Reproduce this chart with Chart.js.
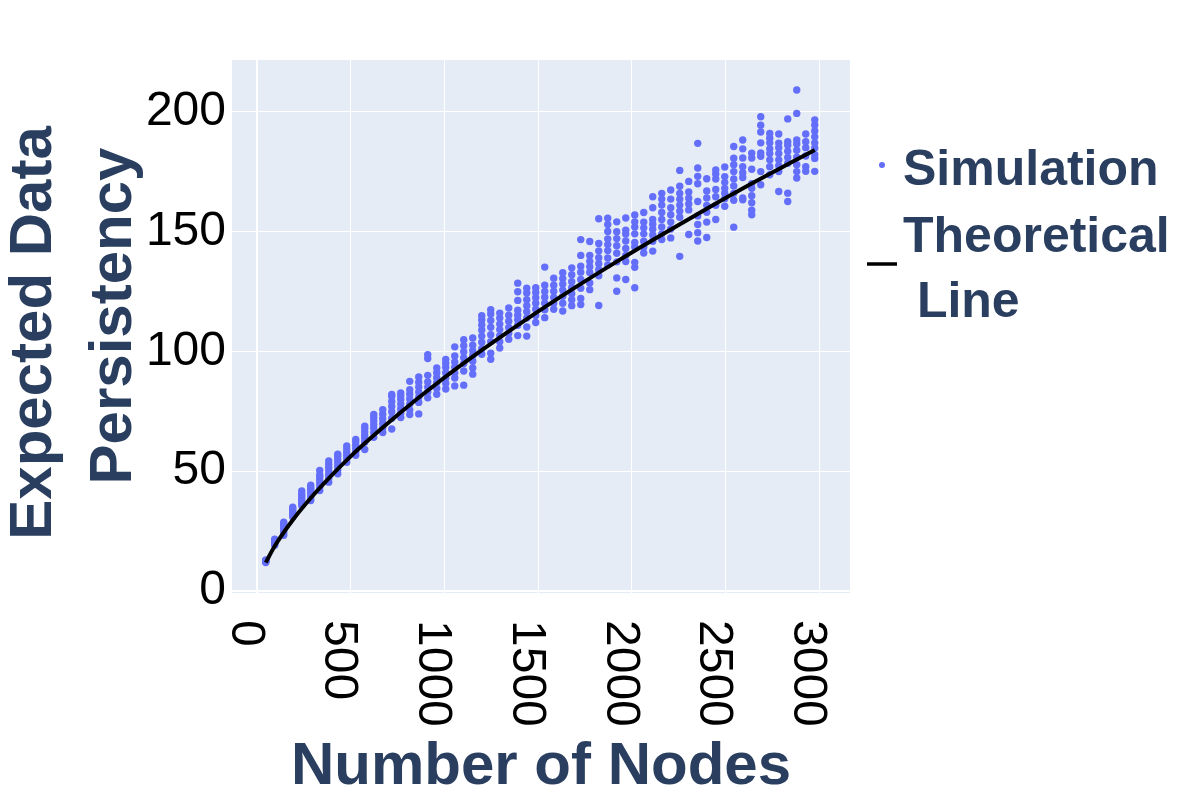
<!DOCTYPE html>
<html>
<head>
<meta charset="utf-8">
<script src="https://cdn.jsdelivr.net/npm/chart.js@4.4.1/dist/chart.umd.min.js"></script>
<style>
html,body{margin:0;padding:0;background:#fff;}
#wrap{width:1200px;height:800px;}
</style>
</head>
<body>
<div id="wrap"><canvas id="c" width="1200" height="800"></canvas></div>
<script>
// ---- data ----
const xTicks = [0, 500, 1000, 1500, 2000, 2500, 3000];
const yTicks = [0, 50, 100, 150, 200];

const nodeCounts = [48, 96, 144, 192, 240, 288, 336, 384, 432, 480, 528, 576, 624, 672, 720, 768,
  816, 864, 912, 960, 1008, 1056, 1104, 1152, 1200, 1248, 1296, 1344, 1392, 1440, 1488, 1536,
  1584, 1632, 1680, 1728, 1776, 1824, 1872, 1920, 1968, 2016, 2064, 2112, 2160, 2208, 2256,
  2304, 2352, 2400, 2448, 2496, 2544, 2592, 2640, 2688, 2736, 2784, 2832, 2880, 2928, 2976];

const simColumns = [
  [11.8, 12.1, 12.4, 12.6, 12.9, 12.3],
  [19.0, 19.6, 20.1, 20.6, 21.1, 21.6],
  [23.2, 24.3, 25.4, 26.3, 27.2, 28.0, 28.7],
  [30.8, 31.7, 32.6, 33.4, 34.2, 34.9],
  [35.6, 36.6, 37.6, 38.6, 39.6, 40.6, 41.7],
  [37.7, 38.9, 40.1, 41.2, 42.3, 43.2, 44.1],
  [41.9, 43.4, 44.8, 46.2, 47.5, 48.4, 50.3],
  [45.4, 47.0, 48.5, 50.0, 51.4, 52.8, 54.2],
  [48.9, 50.5, 52.0, 53.4, 54.9, 56.2, 57.1],
  [53.7, 55.2, 56.6, 57.9, 59.2, 60.5],
  [56.6, 58.0, 59.4, 60.8, 62.2, 63.2],
  [59.0, 62.1, 63.6, 65.0, 66.4, 67.8, 68.8],
  [64.1, 66.0, 67.9, 69.5, 71.0, 72.4, 73.7],
  [66.1, 68.1, 70.0, 71.9, 73.8, 75.7],
  [67.6, 72.1, 74.8, 77.0, 79.1, 81.3, 82.0],
  [72.4, 74.2, 76.1, 78.0, 79.9, 81.4, 82.6],
  [73.6, 75.6, 78.0, 80.1, 82.1, 84.0, 87.5],
  [73.9, 78.7, 80.9, 83.0, 85.1, 87.1, 89.3],
  [80.6, 83.0, 85.1, 87.2, 90.0, 97.0, 98.6],
  [82.1, 84.5, 86.9, 89.0, 91.1, 93.1],
  [84.3, 86.6, 88.9, 91.1, 93.4, 95.1, 96.6],
  [85.6, 88.9, 91.0, 93.4, 95.6, 98.1, 101.9],
  [85.9, 91.8, 94.9, 97.4, 99.9, 102.4, 104.9],
  [90.5, 93.1, 95.9, 98.2, 100.3, 102.6, 105.6],
  [98.8, 101.1, 103.8, 106.4, 108.9, 111.0, 113.1, 114.9],
  [96.7, 99.2, 104.1, 107.0, 110.1, 112.9, 115.6, 117.4],
  [101.4, 104.0, 106.6, 109.1, 111.4, 113.9, 116.0],
  [105.1, 107.6, 110.0, 112.6, 115.1, 118.1],
  [106.6, 110.9, 113.2, 115.1, 117.2, 121.3, 124.9, 128.5],
  [106.4, 110.2, 113.9, 116.6, 119.1, 121.6, 124.4, 126.4],
  [112.1, 115.0, 117.6, 120.1, 122.4, 124.6, 126.6],
  [114.1, 117.4, 120.1, 122.6, 125.0, 127.6, 135.2],
  [117.6, 120.1, 122.5, 125.1, 127.6, 130.6],
  [116.9, 120.1, 123.0, 125.6, 128.1, 130.4, 132.9],
  [119.1, 121.6, 124.1, 126.6, 129.1, 132.0, 134.9],
  [119.6, 122.1, 126.4, 130.0, 133.1, 135.6, 140.1, 146.7],
  [125.8, 128.6, 133.0, 135.4, 137.6, 140.1, 145.9],
  [119.2, 131.6, 134.1, 136.6, 139.1, 142.0, 145.1, 155.4],
  [136.1, 139.0, 142.1, 144.6, 147.0, 150.1, 153.0, 155.6],
  [125.1, 130.7, 137.4, 141.0, 144.1, 147.1, 150.0, 154.1],
  [130.0, 137.5, 140.1, 143.0, 146.1, 149.0, 150.6, 155.7],
  [126.6, 135.1, 137.2, 143.6, 145.5, 149.1, 152.0, 154.1, 157.0],
  [141.1, 143.6, 146.0, 149.1, 151.6, 154.0, 158.0],
  [141.9, 146.0, 148.6, 151.0, 153.1, 155.1, 160.0, 164.6],
  [146.7, 149.1, 152.0, 155.1, 158.0, 161.1, 163.6, 166.0],
  [147.4, 151.1, 154.0, 157.1, 160.0, 163.6, 167.4],
  [139.7, 156.0, 158.6, 161.1, 163.6, 166.0, 169.0, 175.6],
  [148.8, 159.1, 161.6, 164.0, 166.6, 171.0],
  [146.1, 149.6, 153.0, 156.6, 162.6, 170.0, 173.1, 176.6, 186.9],
  [147.6, 154.0, 158.1, 161.0, 164.1, 167.0, 172.1],
  [155.1, 161.0, 164.6, 167.6, 172.0, 174.1, 175.8],
  [160.6, 163.8, 166.1, 168.1, 170.6, 173.0, 177.0],
  [151.9, 163.1, 166.0, 169.1, 172.0, 175.1, 178.0, 180.7, 185.6],
  [163.3, 164.1, 172.6, 174.6, 177.1, 180.8, 184.6, 188.3],
  [157.1, 159.0, 162.1, 165.0, 168.1, 170.0, 176.1, 180.8, 182.8],
  [169.6, 175.1, 181.5, 182.9, 187.1, 191.6, 194.5, 198.0],
  [173.8, 177.1, 180.0, 182.6, 184.6, 187.1, 189.0, 191.0],
  [166.8, 175.1, 177.6, 180.0, 182.6, 185.1, 187.0, 190.8],
  [162.6, 166.1, 178.6, 181.0, 183.6, 186.1, 187.6, 197.1],
  [172.4, 175.1, 178.0, 181.1, 184.0, 186.6, 188.3, 199.4, 209.2],
  [175.2, 177.1, 181.6, 185.1, 187.6, 190.8],
  [175.2, 180.6, 182.1, 185.0, 187.1, 189.6, 192.1, 194.6, 196.7]
];

const theoryX = [48, 96, 192, 288, 384, 480, 576, 768, 960, 1200, 1440, 1680, 1920, 2160, 2400, 2640, 2880, 2976];
const theoryY = [11.8, 18.7, 29.6, 38.8, 47.0, 54.6, 61.6, 74.6, 86.6, 100.5, 113.5, 125.8, 137.5, 148.7, 159.6, 170.1, 180.1, 184.1];

const seriesNames = ['Simulation', 'Theoretical', ' Line'];
const xTitle = 'Number of Nodes';
const yTitle = ['Expected Data', 'Persistency'];

// ---- build ----
const simPoints = [];
nodeCounts.forEach((n, i) => simColumns[i].forEach(v => simPoints.push({x: n, y: v})));
const theoryPoints = theoryX.map((x, i) => ({x: x, y: theoryY[i]}));

const FONT = "'Liberation Sans', Arial, sans-serif";
const TITLE_COLOR = '#2a3f5f';
const SIM_COLOR = '#636EFA';

const bgPlugin = {
  id: 'bg',
  beforeDraw(chart) {
    const {ctx, chartArea: a} = chart;
    ctx.save();
    ctx.fillStyle = '#E5ECF6';
    ctx.fillRect(a.left, a.top, a.right - a.left, a.bottom - a.top);
    ctx.restore();
  }
};

const textPlugin = {
  id: 'texts',
  afterDraw(chart) {
    const {ctx} = chart;
    const xs = chart.scales.x;
    // x tick labels, rotated clockwise
    ctx.save();
    ctx.font = '48px ' + FONT;
    ctx.fillStyle = '#000';
    ctx.textAlign = 'left';
    ctx.textBaseline = 'middle';
    xTicks.forEach(v => {
      const px = xs.getPixelForValue(v);
      ctx.save();
      ctx.translate(px - 12, 620);
      ctx.rotate(Math.PI / 2);
      ctx.fillText(String(v), 0, 0);
      ctx.restore();
    });
    ctx.restore();
    // y axis title, two lines rotated
    ctx.save();
    ctx.font = 'bold 60px ' + FONT;
    ctx.fillStyle = TITLE_COLOR;
    ctx.textAlign = 'center';
    ctx.textBaseline = 'middle';
    [[yTitle[0], 34, 333], [yTitle[1], 114, 316]].forEach(([t, x, y]) => {
      ctx.save();
      ctx.translate(x, y);
      ctx.rotate(-Math.PI / 2);
      ctx.fillText(t, 0, 0);
      ctx.restore();
    });
    ctx.restore();
    // legend
    ctx.save();
    ctx.fillStyle = SIM_COLOR;
    ctx.beginPath();
    ctx.arc(882, 165, 3, 0, Math.PI * 2);
    ctx.fill();
    ctx.strokeStyle = '#000';
    ctx.lineWidth = 3.5;
    ctx.beginPath();
    ctx.moveTo(867, 264);
    ctx.lineTo(897, 264);
    ctx.stroke();
    ctx.fillStyle = TITLE_COLOR;
    ctx.font = 'bold 50px ' + FONT;
    ctx.textAlign = 'left';
    ctx.textBaseline = 'alphabetic';
    ctx.fillText(seriesNames[0], 903, 185);
    ctx.fillText(seriesNames[1], 903, 252);
    ctx.fillText(seriesNames[2], 903, 317);
    ctx.restore();
  }
};

new Chart(document.getElementById('c'), {
  type: 'scatter',
  data: {
    datasets: [
      {
        label: 'Theoretical Line',
        data: theoryPoints,
        showLine: true,
        borderColor: '#000',
        borderWidth: 4,
        pointRadius: 0,
        cubicInterpolationMode: 'monotone',
        order: 0
      },
      {
        label: 'Simulation',
        data: simPoints,
        backgroundColor: SIM_COLOR,
        borderWidth: 0,
        pointRadius: 3.7,
        order: 1
      }
    ]
  },
  options: {
    responsive: false,
    animation: false,
    devicePixelRatio: 1,
    layout: {padding: {top: 60, right: 350, left: 0, bottom: 0}},
    plugins: {legend: {display: false}, tooltip: {enabled: false}},
    scales: {
      x: {
        type: 'linear',
        min: -132,
        max: 3164,
        afterBuildTicks: s => { s.ticks = xTicks.map(v => ({value: v})); },
        afterFit: s => { s.height = 207; },
        ticks: {display: false},
        grid: {color: '#fff', lineWidth: c => (c.tick && c.tick.value === 0 ? 2 : 1), drawTicks: false},
        border: {display: false},
        title: {
          display: true, text: xTitle, color: TITLE_COLOR,
          font: {family: FONT, size: 60, weight: 'bold', lineHeight: 1.07},
          padding: {top: 0, bottom: 0}
        }
      },
      y: {
        type: 'linear',
        min: -0.9,
        max: 221.7,
        afterBuildTicks: s => { s.ticks = yTicks.map(v => ({value: v})); },
        afterFit: s => { s.width = 232; },
        ticks: {color: '#000', font: {family: FONT, size: 48}, padding: 6},
        grid: {color: '#fff', lineWidth: c => (c.tick && c.tick.value === 0 ? 2 : 1), drawTicks: false},
        border: {display: false},
        title: {display: false}
      }
    }
  },
  plugins: [bgPlugin, textPlugin]
});
</script>
</body>
</html>
